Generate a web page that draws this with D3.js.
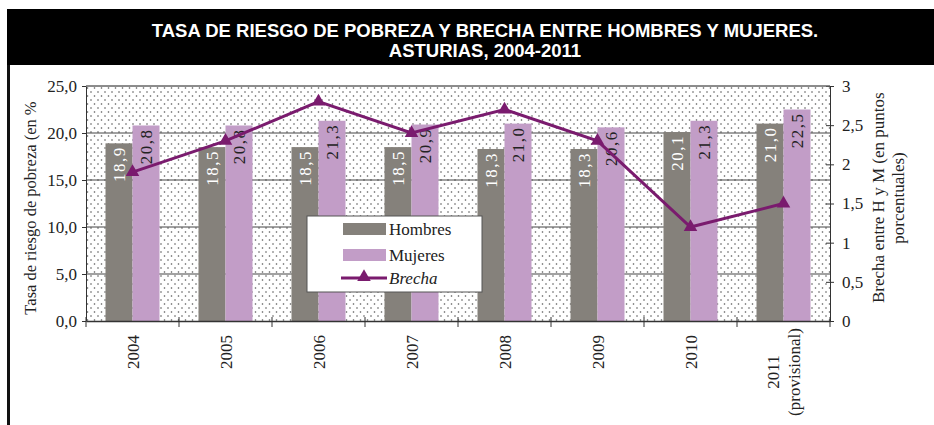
<!DOCTYPE html>
<html>
<head>
<meta charset="utf-8">
<script src="https://cdn.jsdelivr.net/npm/d3@7"></script>
<style>
  body { margin: 0; background: #fff; }
  svg { display: block; }
  .axis text { font-family: "Liberation Serif", "DejaVu Serif", serif; font-size: 17px; fill: #222; }
  .axis path, .axis line { stroke: #333; }
</style>
</head>
<body>
<svg id="chart"></svg>
<script>
var years = ["2004", "2005", "2006", "2007", "2008", "2009", "2010", "2011"];
var hombres = [18.9, 18.5, 18.5, 18.5, 18.3, 18.3, 20.1, 21.0];
var mujeres = [20.8, 20.8, 21.3, 20.9, 21.0, 20.6, 21.3, 22.5];
var brecha = [1.9, 2.3, 2.8, 2.4, 2.7, 2.3, 1.2, 1.5];
var leftTicks = [0, 5, 10, 15, 20, 25];
var rightTicks = [0, 0.5, 1, 1.5, 2, 2.5, 3];

var W = 934, H = 425;
var margin = {top: 86, right: 104, bottom: 104, left: 86};
var width = W - margin.left - margin.right,
    height = H - margin.top - margin.bottom;
var serif = "'Liberation Serif', 'DejaVu Serif', serif";

var svg = d3.select("#chart").attr("width", W).attr("height", H);
var fmt = function (v) { return d3.format(".1f")(v).replace(".", ","); };
var fmt2 = function (v) { return String(v).replace(".", ","); };

// frame + title band
svg.append("rect").attr("x", 7).attr("y", 9).attr("width", 3).attr("height", H - 9).attr("fill", "#111");
svg.append("rect").attr("x", 7).attr("y", 9).attr("width", W - 7).attr("height", 56).attr("fill", "#000");
var title = svg.append("text")
    .attr("text-anchor", "middle")
    .attr("fill", "#fff")
    .style("font-family", "'Liberation Sans', Arial, sans-serif")
    .style("font-weight", "bold")
    .style("font-size", "18.5px");
title.append("tspan").attr("x", 485).attr("y", 37).text("TASA DE RIESGO DE POBREZA Y BRECHA ENTRE HOMBRES Y MUJERES.");
title.append("tspan").attr("x", 485).attr("y", 57).text("ASTURIAS, 2004-2011");

// dotted background pattern
var defs = svg.append("defs");
var pat = defs.append("pattern").attr("id", "dots")
    .attr("patternUnits", "userSpaceOnUse").attr("width", 7).attr("height", 8);
pat.append("rect").attr("width", 7).attr("height", 8).attr("fill", "#fff");
pat.append("circle").attr("cx", 1.5).attr("cy", 2).attr("r", 0.8).attr("fill", "#555");
pat.append("circle").attr("cx", 5).attr("cy", 6).attr("r", 0.8).attr("fill", "#555");

var g = svg.append("g").attr("transform", "translate(" + margin.left + "," + margin.top + ")");

var x = d3.scaleBand().domain(years).range([0, width]);
var y = d3.scaleLinear().domain([0, 25]).range([height, 0]);
var y2 = d3.scaleLinear().domain([0, 3]).range([height, 0]);
var barW = 27, barOff = (x.bandwidth() - 2 * barW) / 2;

g.append("rect").attr("width", width).attr("height", height).attr("fill", "url(#dots)");

// grid
g.selectAll(".grid").data(leftTicks.slice(1)).enter().append("line")
    .attr("x1", 0).attr("x2", width)
    .attr("y1", function (d) { return y(d); }).attr("y2", function (d) { return y(d); })
    .attr("stroke", "#444").attr("stroke-width", 1);

// bars
g.selectAll(".bar-h").data(hombres).enter().append("rect")
    .attr("x", function (d, i) { return x(years[i]) + barOff; })
    .attr("y", function (d) { return y(d); })
    .attr("width", barW)
    .attr("height", function (d) { return height - y(d); })
    .attr("fill", "#85817b");
g.selectAll(".bar-m").data(mujeres).enter().append("rect")
    .attr("x", function (d, i) { return x(years[i]) + barOff + barW; })
    .attr("y", function (d) { return y(d); })
    .attr("width", barW)
    .attr("height", function (d) { return height - y(d); })
    .attr("fill", "#c29dc7");

// bar labels
function barLabels(data, dx, color) {
    g.selectAll(null).data(data).enter().append("text")
        .attr("transform", function (d, i) {
            return "translate(" + (x(years[i]) + barOff + dx + barW / 2 + 6) + "," + (y(d) + 3) + ")rotate(-90)";
        })
        .attr("text-anchor", "end")
        .attr("fill", color)
        .style("font-family", serif)
        .style("font-size", "17px")
        .style("letter-spacing", "1.5px")
        .text(function (d) { return fmt(d); });
}
barLabels(hombres, 0, "#fff");
barLabels(mujeres, barW, "#222");

// axes
var yAxis = g.append("g").attr("class", "axis")
    .call(d3.axisLeft(y).tickValues(leftTicks).tickFormat(fmt).tickSize(4).tickSizeOuter(0));
yAxis.selectAll("text").attr("x", -9);
var y2Axis = g.append("g").attr("class", "axis").attr("transform", "translate(" + width + ",0)")
    .call(d3.axisRight(y2).tickValues(rightTicks).tickFormat(fmt2).tickSize(4).tickSizeOuter(0));
y2Axis.selectAll("line").attr("x1", -4);
y2Axis.selectAll("text").attr("x", 12);
g.append("line").attr("x1", 0).attr("x2", width).attr("y1", 0).attr("y2", 0).attr("stroke", "#777");

var xAxis = g.append("g").attr("class", "axis").attr("transform", "translate(0," + height + ")")
    .call(d3.axisBottom(x).tickSize(0).tickSizeOuter(0));
xAxis.select(".domain").attr("stroke-width", 1.5);
xAxis.selectAll("text").remove();
xAxis.selectAll(".bound").data(years.concat(["end"])).enter().append("line")
    .attr("x1", function (d, i) { return i * x.step(); })
    .attr("x2", function (d, i) { return i * x.step(); })
    .attr("y1", -4).attr("y2", 6).attr("stroke", "#333");
xAxis.selectAll(".lbl").data(years).enter().append("text")
    .attr("transform", function (d) { return "translate(" + (x(d) + x.bandwidth() / 2 + 6) + ",14)rotate(-90)"; })
    .attr("text-anchor", "end")
    .text(function (d) { return d === "2011" ? null : d; });
var last = xAxis.append("text")
    .attr("transform", "translate(" + (x("2011") + x.bandwidth() / 2) + ",51)rotate(-90)")
    .attr("text-anchor", "middle");
last.append("tspan").attr("x", 0).attr("dy", "-0.25em").text("2011");
last.append("tspan").attr("x", 0).attr("dy", "1.2em").text("(provisional)");

// brecha line
var line = d3.line()
    .x(function (d, i) { return x(years[i]) + x.bandwidth() / 2; })
    .y(function (d) { return y2(d); });
g.append("path").datum(brecha).attr("d", line)
    .attr("fill", "none").attr("stroke", "#7a1b6e").attr("stroke-width", 3);
var tri = d3.symbol().type(d3.symbolTriangle).size(80);
g.selectAll(".pt").data(brecha).enter().append("path")
    .attr("d", tri)
    .attr("transform", function (d, i) { return "translate(" + (x(years[i]) + x.bandwidth() / 2) + "," + y2(d) + ")"; })
    .attr("fill", "#7a1b6e");

// axis titles
svg.append("text")
    .attr("transform", "translate(36,208)rotate(-90)")
    .attr("text-anchor", "middle")
    .style("font-family", serif).style("font-size", "16.5px").attr("fill", "#222")
    .text("Tasa de riesgo de pobreza (en %");
defs.append("clipPath").attr("id", "clipR").append("rect")
    .attr("x", 850).attr("y", 78).attr("width", 84).attr("height", 300);
var rt = svg.append("g").attr("clip-path", "url(#clipR)")
    .append("text")
    .attr("transform", "translate(884,198)rotate(-90)")
    .style("font-family", serif).style("font-size", "17px").attr("fill", "#222");
rt.append("tspan").attr("x", -105).attr("y", 0).attr("text-anchor", "start").text("Brecha entre H y M (en puntos");
rt.append("tspan").attr("x", 0).attr("y", 20).attr("text-anchor", "middle").text("porcentuales)");

// legend
var leg = svg.append("g").attr("transform", "translate(307,216)");
leg.append("rect").attr("width", 175).attr("height", 76).attr("fill", "#fff").attr("stroke", "#555");
leg.append("rect").attr("x", 36).attr("y", 7).attr("width", 43).attr("height", 12).attr("fill", "#85817b");
leg.append("rect").attr("x", 36).attr("y", 33).attr("width", 43).attr("height", 12).attr("fill", "#c29dc7");
leg.append("line").attr("x1", 34).attr("x2", 80).attr("y1", 62).attr("y2", 62)
    .attr("stroke", "#7a1b6e").attr("stroke-width", 3);
leg.append("path").attr("d", tri).attr("transform", "translate(57,61)").attr("fill", "#7a1b6e");
var legText = [["Hombres", "normal", 19], ["Mujeres", "normal", 45], ["Brecha", "italic", 68]];
leg.selectAll(".lt").data(legText).enter().append("text")
    .attr("x", 82).attr("y", function (d) { return d[2]; })
    .style("font-family", serif).style("font-size", "17px").style("font-style", function (d) { return d[1]; })
    .attr("fill", "#222")
    .text(function (d) { return d[0]; });
</script>
</body>
</html>
